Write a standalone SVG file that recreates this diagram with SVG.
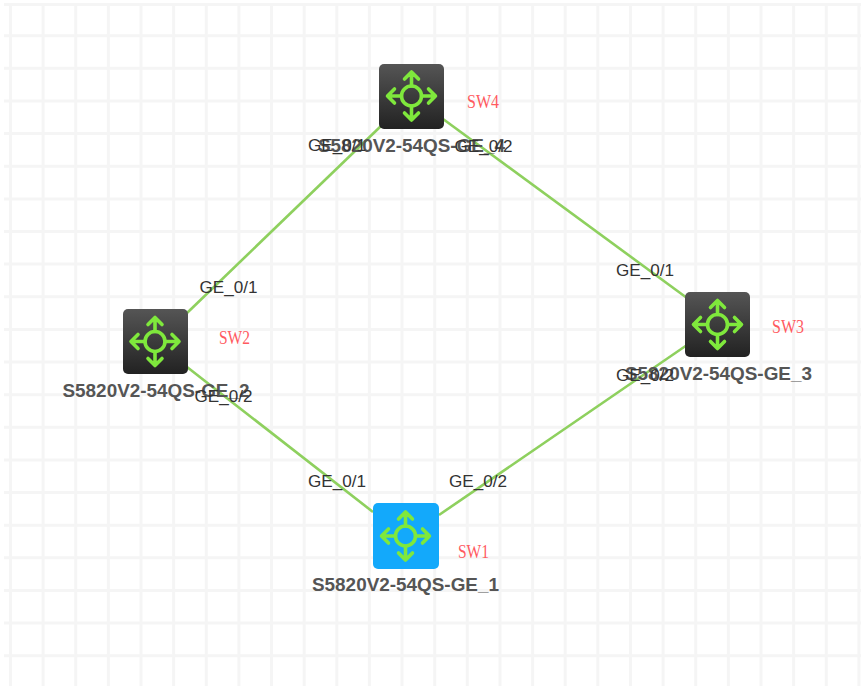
<svg xmlns="http://www.w3.org/2000/svg" width="861" height="686" viewBox="0 0 861 686">
<defs>
<style>
.g{stroke:#f5f5f5;stroke-width:3;fill:none}
.l{stroke:#8ed05e;stroke-width:2.6;fill:none}
.p{font:16px "Liberation Sans",Arial,sans-serif;fill:#333;text-anchor:middle}
.n{font:bold 18px "Liberation Sans",Arial,sans-serif;fill:#555;text-anchor:middle}
.s{font:18px "Liberation Serif","Times New Roman",serif;fill:#ff5a5f}
.i{stroke:#7fe83c;stroke-width:3.6;fill:none;stroke-linecap:round;stroke-linejoin:round}
</style>
<linearGradient id="dk" x1="0" y1="0" x2="0" y2="1"><stop offset="0" stop-color="#555"/><stop offset="1" stop-color="#222"/></linearGradient>
<g id="ic">
<circle r="10" class="i"/>
<path class="i" d="M0-10V-24M-7-17L0-24L7-17M0 10V24M-7 17L0 24L7 17M-10 0H-24M-17-7L-24 0L-17 7M10 0H24M17-7L24 0L17 7"/>
</g>
</defs>
<rect width="861" height="686" fill="#fff"/>
<g id="grid" class="g">
<path d="M4 4.500H861M4 35.700H861M4 68.300H861M4 101H861M4 133.600H861M4 166.200H861M4 198.900H861M4 231.500H861M4 264.100H861M4 296.800H861M4 329.400H861M4 362H861M4 394.700H861M4 427.300H861M4 459.900H861M4 492.500H861M4 525.200H861M4 557.800H861M4 590.500H861M4 623.100H861M4 655.700H861"/>
<path d="M10.500 4V686M43.100 4V686M75.700 4V686M108.400 4V686M141 4V686M173.600 4V686M206.300 4V686M238.900 4V686M271.500 4V686M304.200 4V686M336.800 4V686M369.400 4V686M402 4V686M434.700 4V686M467.300 4V686M500 4V686M532.600 4V686M565.200 4V686M597.800 4V686M630.500 4V686M663.100 4V686M695.700 4V686M728.400 4V686M761 4V686M793.600 4V686M826.300 4V686M858.900 4V686"/>
</g>
<g id="connectors" class="l">
<line x1="187" y1="313" x2="381" y2="126"/>
<line x1="443" y1="119" x2="687" y2="298"/>
<line x1="687" y1="345" x2="439" y2="515"/>
<line x1="373" y1="512" x2="187" y2="367"/>
</g>
<g id="SW4">
<rect x="379" y="64" width="65" height="65" rx="5" fill="url(#dk)"/>
<use href="#ic" x="411.500" y="96"/>
<text class="n" x="411.500" y="152" textLength="187" lengthAdjust="spacingAndGlyphs">S5820V2-54QS-GE_4</text>
<text class="s" x="467" y="107.500" textLength="32" lengthAdjust="spacingAndGlyphs">SW4</text>
<text class="p" x="337" y="151" textLength="58" lengthAdjust="spacingAndGlyphs">GE_0/1</text>
<text class="p" x="483.500" y="152" textLength="58" lengthAdjust="spacingAndGlyphs">GE_0/2</text>
</g>
<g id="SW2">
<rect x="123" y="309" width="65" height="65" rx="5" fill="url(#dk)"/>
<use href="#ic" x="155" y="341.500"/>
<text class="n" x="156" y="397" textLength="187" lengthAdjust="spacingAndGlyphs">S5820V2-54QS-GE_2</text>
<text class="s" x="219" y="344" textLength="31" lengthAdjust="spacingAndGlyphs">SW2</text>
<text class="p" x="228.500" y="293" textLength="58" lengthAdjust="spacingAndGlyphs">GE_0/1</text>
<text class="p" x="223.500" y="402" textLength="58" lengthAdjust="spacingAndGlyphs">GE_0/2</text>
</g>
<g id="SW3">
<rect x="685" y="292" width="65" height="65" rx="5" fill="url(#dk)"/>
<use href="#ic" x="717.500" y="324.500"/>
<text class="n" x="718.500" y="380" textLength="187" lengthAdjust="spacingAndGlyphs">S5820V2-54QS-GE_3</text>
<text class="s" x="772" y="333" textLength="32" lengthAdjust="spacingAndGlyphs">SW3</text>
<text class="p" x="645" y="276" textLength="58" lengthAdjust="spacingAndGlyphs">GE_0/1</text>
<text class="p" x="645" y="381" textLength="58" lengthAdjust="spacingAndGlyphs">GE_0/2</text>
</g>
<g id="SW1">
<rect x="373" y="503" width="66" height="66" rx="5" fill="#13a9fb"/>
<use href="#ic" x="405.500" y="536"/>
<text class="n" x="405.500" y="591" textLength="187" lengthAdjust="spacingAndGlyphs">S5820V2-54QS-GE_1</text>
<text class="s" x="458" y="557.500" textLength="31" lengthAdjust="spacingAndGlyphs">SW1</text>
<text class="p" x="337" y="487" textLength="58" lengthAdjust="spacingAndGlyphs">GE_0/1</text>
<text class="p" x="478" y="487" textLength="58" lengthAdjust="spacingAndGlyphs">GE_0/2</text>
</g>
</svg>
